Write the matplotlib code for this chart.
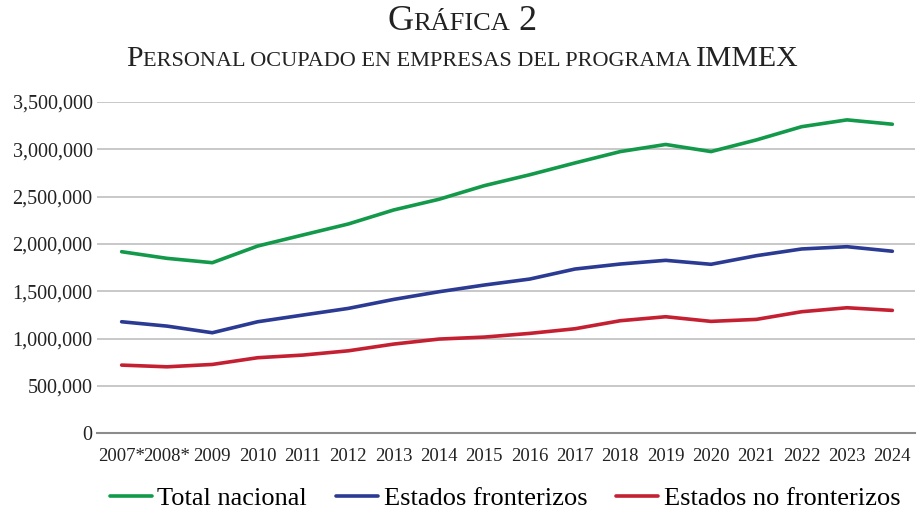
import matplotlib
matplotlib.use("Agg")
import matplotlib.pyplot as plt
from matplotlib.ticker import FuncFormatter

# datos
years = ["2007*", "2008*", "2009", "2010", "2011", "2012", "2013", "2014", "2015",
         "2016", "2017", "2018", "2019", "2020", "2021", "2022", "2023", "2024"]
total_nacional = [1917000, 1847000, 1801000, 1977000, 2094000, 2210000, 2358000, 2471000, 2615000,
                  2730000, 2855000, 2975000, 3050000, 2975000, 3098000, 3238000, 3310000, 3264000]
estados_fronterizos = [1177000, 1131000, 1061000, 1177000, 1248000, 1318000, 1413000, 1494000, 1565000,
                       1628000, 1734000, 1787000, 1826000, 1784000, 1875000, 1946000, 1970000, 1922000]
estados_no_fronterizos = [719000, 701000, 726000, 797000, 825000, 870000, 941000, 994000, 1015000,
                          1054000, 1103000, 1188000, 1230000, 1181000, 1202000, 1283000, 1325000, 1297000]

series = [
    ("Total nacional", total_nacional, "#12994a"),
    ("Estados fronterizos", estados_fronterizos, "#2b3a93"),
    ("Estados no fronterizos", estados_no_fronterizos, "#c42032"),
]

plt.rcParams['font.family'] = ['Liberation Serif', 'DejaVu Serif']

fig = plt.figure(figsize=(9.21, 5.12), dpi=100)
ax = fig.add_axes([0.105, 0.154, 0.8885, 0.647])

x = list(range(len(years)))
for name, vals, color in series:
    ax.plot(x, vals, color=color, lw=2.6, label=name, solid_capstyle='round')

ax.set_ylim(0, 3500000)
ax.set_xlim(-0.55, 17.5)
ax.set_yticks(range(0, 3500001, 500000))
ax.yaxis.set_major_formatter(FuncFormatter(lambda v, p: f"{int(v):,}"))
ax.set_xticks(x)
ax.set_xticklabels(years)
ax.tick_params(axis='y', length=0, pad=3, labelsize=14.5, colors='#222222')
ax.tick_params(axis='x', length=0, pad=11, labelsize=13.5, colors='#222222')
ax.grid(axis='y', color='#c4c4c4', lw=1.3)
ax.set_axisbelow(True)
for s in ['top', 'right', 'left']:
    ax.spines[s].set_visible(False)
ax.spines['bottom'].set_color('#8c8c8c')
ax.spines['bottom'].set_linewidth(1.5)

ax.legend(loc='center', bbox_to_anchor=(0.499, -0.196), ncol=3, frameon=False,
          fontsize=19, handlelength=1.6, handletextpad=0.2, columnspacing=1.1)


def small_caps(y, parts, cx=0.502):
    # parts: (texto, tamaño) colocados uno tras otro y centrados
    renderer = fig.canvas.get_renderer()
    texts = []
    for s, size in parts:
        t = fig.text(0, y, s, fontsize=size, color='#222222', va='baseline', ha='left')
        texts.append(t)
    widths = [t.get_window_extent(renderer).width / fig.bbox.width for t in texts]
    xpos = cx - sum(widths) / 2
    for t, w in zip(texts, widths):
        t.set_x(xpos)
        xpos += w


small_caps(1 - 30 / 512, [("G", 26), ("RÁFICA", 19), (" 2", 26)])
small_caps(1 - 66 / 512, [("P", 21.5), ("ERSONAL OCUPADO EN EMPRESAS DEL PROGRAMA ", 16), ("IMMEX", 21.5)])

fig.savefig("out.png", dpi=100)
